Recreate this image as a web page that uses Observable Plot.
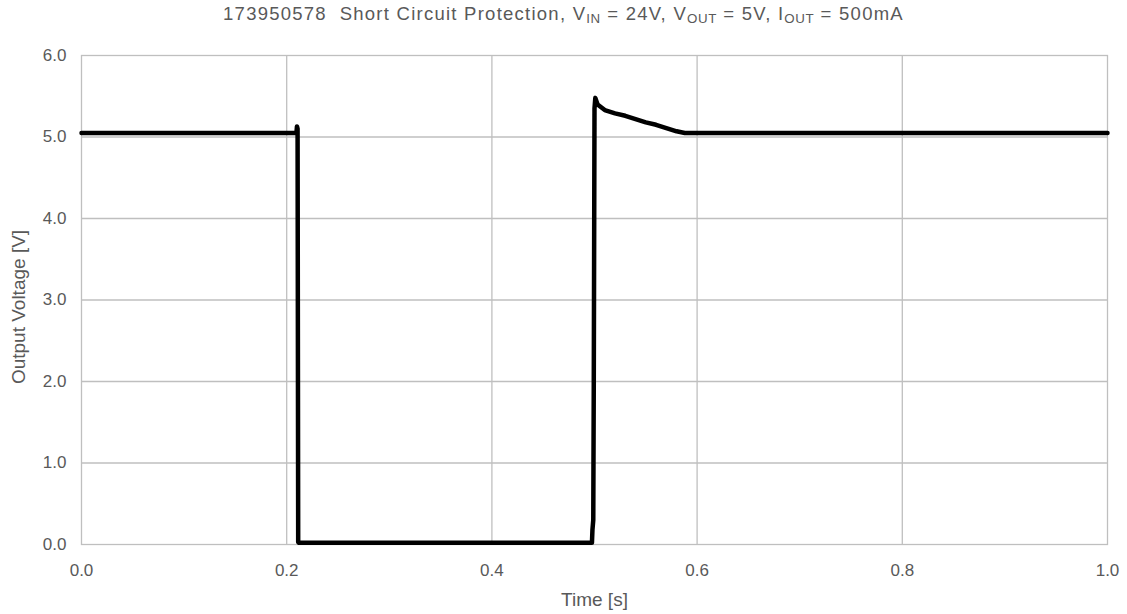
<!DOCTYPE html>
<html>
<head>
<meta charset="utf-8">
<script src="https://cdn.jsdelivr.net/npm/d3@7"></script>
<script src="https://cdn.jsdelivr.net/npm/@observablehq/plot@0.6"></script>
<style>
  html, body { margin: 0; padding: 0; background: #fff; }
  #title { height: 30px; line-height: 28px; text-align: center; font-family: "Liberation Sans", Arial, sans-serif; font-size: 18.5px; letter-spacing: 1.25px; color: #595959; white-space: nowrap; }
  #title sub { font-size: 0.72em; vertical-align: -0.25em; line-height: 0; letter-spacing: 0.6px; }
</style>
</head>
<body>
<div id="title">173950578&nbsp; Short Circuit Protection, V<sub>IN</sub> = 24V, V<sub>OUT</sub> = 5V, I<sub>OUT</sub> = 500mA</div>
<div id="chart"></div>
<script>
// Time [s]
const time = [0.000, 0.100, 0.2080, 0.2095, 0.2100, 0.2106, 0.2112, 0.2120, 0.300, 0.400, 0.4975, 0.4980, 0.4988, 0.4993, 0.5000, 0.5008, 0.5030, 0.510, 0.520, 0.530, 0.540, 0.550, 0.560, 0.570, 0.580, 0.588, 0.600, 0.700, 0.800, 0.900, 1.000];
// Output Voltage [V]
const voltage = [5.05, 5.05, 5.05, 5.05, 5.13, 5.10, 0.03, 0.02, 0.02, 0.02, 0.02, 0.18, 0.30, 2.00, 5.35, 5.48, 5.40, 5.33, 5.29, 5.26, 5.22, 5.18, 5.15, 5.11, 5.07, 5.05, 5.05, 5.05, 5.05, 5.05, 5.05];
const xTicks = [0, 0.2, 0.4, 0.6, 0.8, 1.0];
const yTicks = [0, 1, 2, 3, 4, 5, 6];

const data = time.map((t, i) => ({t, v: voltage[i]}));
const font = "Liberation Sans, Arial, sans-serif";
const grid = "#bfbfbf";

const chart = Plot.plot({
  width: 1127,
  height: 584,
  marginTop: 25,
  marginBottom: 70,
  marginLeft: 81,
  marginRight: 20,
  style: { fontFamily: font, fontSize: "17px", color: "#595959", background: "#fff" },
  x: { domain: [0, 1], ticks: xTicks, tickFormat: d3.format(".1f"), label: null },
  y: { domain: [0, 6], ticks: yTicks, tickFormat: d3.format(".1f"), label: null },
  marks: [
    Plot.gridX(xTicks.slice(1, -1), { stroke: grid, strokeOpacity: 1, strokeWidth: 1.3 }),
    Plot.gridY(yTicks.slice(1, -1), { stroke: grid, strokeOpacity: 1, strokeWidth: 1.3 }),
    Plot.frame({ stroke: grid, strokeWidth: 1.3 }),
    Plot.axisX(xTicks, { tickSize: 0, tickPadding: 19, tickFormat: d3.format(".1f"), fontSize: 17, fill: "#595959", label: null }),
    Plot.axisY(yTicks, { tickSize: 0, tickPadding: 15, tickFormat: d3.format(".1f"), fontSize: 17, fill: "#595959", label: null }),
    Plot.line(data, { x: "t", y: "v", stroke: "#000", strokeWidth: 4.5, strokeLinejoin: "round", strokeLinecap: "round" }),
    Plot.text(["Time [s]"], { frameAnchor: "bottom", dy: 61, fontSize: 19, fill: "#595959" }),
    Plot.text(["Output Voltage [V]"], { frameAnchor: "left", textAnchor: "middle", dx: -63, dy: 7, rotate: -90, fontSize: 19, fill: "#595959" })
  ]
});
document.getElementById("chart").appendChild(chart);
</script>
</body>
</html>
